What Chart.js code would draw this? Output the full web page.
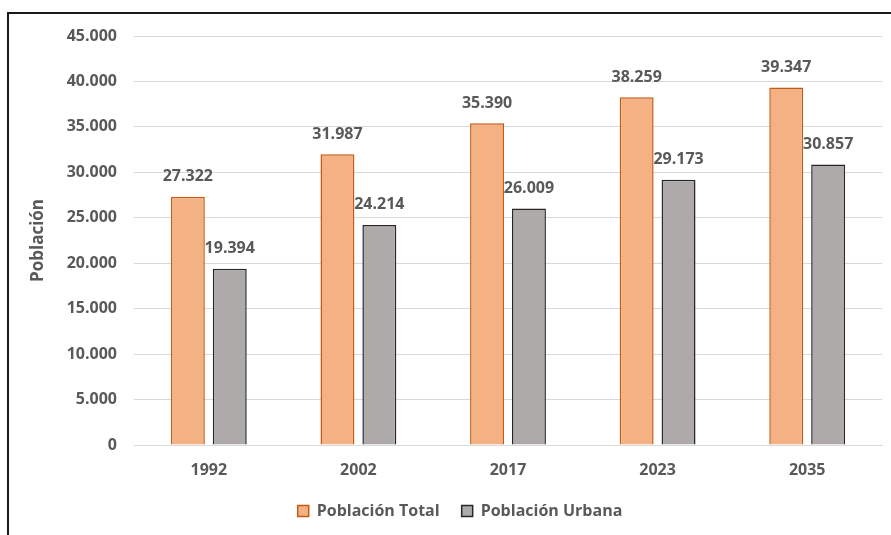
<!DOCTYPE html>
<html>
<head>
<meta charset="utf-8">
<script src="https://cdn.jsdelivr.net/npm/chart.js@4.4.1/dist/chart.umd.min.js"></script>
<style>
  html, body { margin: 0; padding: 0; background: #fff; overflow: hidden; }
  #wrap { position: relative; width: 891px; height: 535px; }
  #frame { position: absolute; left: 7px; top: 12px; width: 900px; height: 600px; border: 2px solid #1a1a1a; box-sizing: border-box; pointer-events: none; }
  canvas { position: absolute; left: 0; top: 0; }
</style>
</head>
<body>
<div id="wrap">
  <canvas id="c" width="891" height="535"></canvas>
  <div id="frame"></div>
</div>
<script>
const categories = ['1992', '2002', '2017', '2023', '2035'];
const poblacionTotal = [27322, 31987, 35390, 38259, 39347];
const poblacionUrbana = [19394, 24214, 26009, 29173, 30857];
const seriesNames = ['Población Total', 'Población Urbana'];
const axisTitle = 'Población';

const FONT = '"Open Sans", Lato, sans-serif';
const TEXT = '#595959';

function fmt(v) {
  return Math.round(v).toString().replace(/\B(?=(\d{3})+(?!\d))/g, '.');
}

const labelPlugin = {
  id: 'barLabels',
  afterLayout(chart) {
    const lg = chart.legend;
    if (lg) { lg.left += 19; lg.right += 19; }
  },
  afterDatasetsDraw(chart) {
    const ctx = chart.ctx;
    ctx.save();
    ctx.font = 'bold 16px ' + FONT;
    ctx.fillStyle = TEXT;
    ctx.textAlign = 'center';
    ctx.textBaseline = 'middle';
    chart.data.datasets.forEach((ds, i) => {
      chart.getDatasetMeta(i).data.forEach((bar, j) => {
        ctx.fillText(fmt(ds.data[j]), bar.x, bar.y - 20);
      });
    });
    ctx.restore();
  }
};

new Chart(document.getElementById('c'), {
  type: 'bar',
  data: {
    labels: categories,
    datasets: [
      { label: seriesNames[0], data: poblacionTotal, backgroundColor: '#F4B183', borderColor: '#C55A11', borderWidth: 1.5 },
      { label: seriesNames[1], data: poblacionUrbana, backgroundColor: '#AEAAAA', borderColor: '#262626', borderWidth: 1.5 }
    ]
  },
  options: {
    responsive: false,
    animation: false,
    devicePixelRatio: 1,
    categoryPercentage: 0.56,
    barPercentage: 0.81,
    layout: { padding: { left: 0, right: 9, top: 36, bottom: 6 } },
    plugins: {
      legend: {
        position: 'bottom',
        labels: {
          font: { family: FONT, size: 16, weight: 'bold' },
          color: TEXT,
          boxWidth: 11,
          boxHeight: 11,
          padding: 22
        }
      },
      tooltip: { enabled: false }
    },
    scales: {
      x: {
        grid: { display: false, drawTicks: false },
        border: { display: true, color: '#D9D9D9', width: 1 },
        ticks: { font: { family: FONT, size: 16, weight: 'bold' }, color: TEXT, padding: 16 },
        afterFit(scale) { scale.height = 36; }
      },
      y: {
        min: 0, max: 45000,
        grid: { color: '#D9D9D9', lineWidth: 1, drawTicks: false },
        border: { display: false },
        ticks: {
          stepSize: 5000,
          font: { family: FONT, size: 16, weight: 'bold' },
          color: TEXT,
          padding: 17,
          callback: (v) => fmt(v)
        },
        title: {
          display: true,
          text: axisTitle,
          font: { family: FONT, size: 17, weight: 'bold' },
          color: TEXT,
          padding: { top: 28, bottom: 0 }
        },
        afterFit(scale) { scale.width = 134; }
      }
    }
  },
  plugins: [labelPlugin]
});
</script>
</body>
</html>
